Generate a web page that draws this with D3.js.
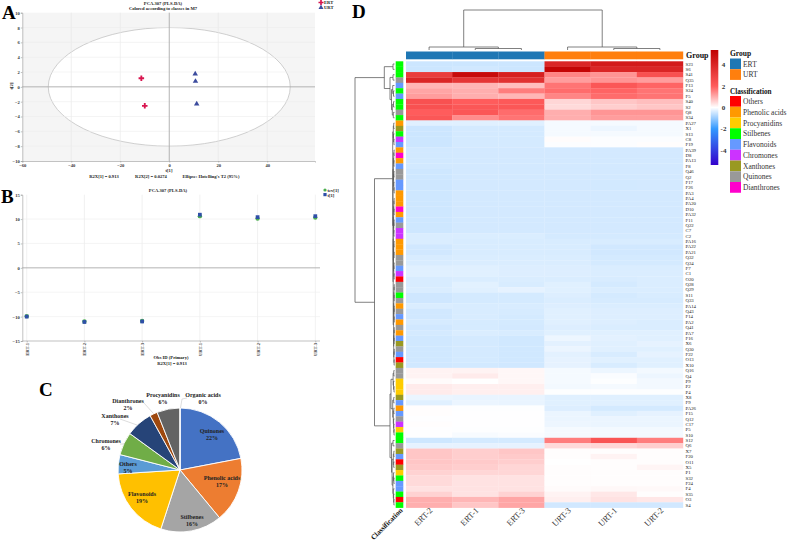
<!DOCTYPE html>
<html>

<head>
    <meta charset="utf-8" />
    <title>PCA and metabolite heatmap</title>
    <script src="https://d3js.org/d3.v7.min.js"></script>
    <style>
        html, body { margin: 0; padding: 0; background: #fff; }
        svg { display: block; }
        text { font-family: "Liberation Serif", serif; }
        .panel { font-size: 19px; font-weight: bold; fill: #000; }
        .tiny { font-size: 4.6px; font-weight: bold; fill: #222; }
        .axis text { font-size: 4.6px; font-weight: bold; fill: #333; font-family: "Liberation Serif", serif; }
        .axis path, .axis line { stroke: #999; stroke-width: 0.6; }
        .pie { font-size: 6px; font-weight: bold; fill: #222; }
    </style>
</head>

<body>
    <svg id="chart" width="787" height="544"></svg>

    <script>
        // panel A, scores
        const scoreNames = ["ERT", "URT"];
        const ertScores = [[-11.4, 1.16], [-10, -2.56]];
        const urtScores = [[10.6, 1.75], [10.7, 0.75], [11.2, -2.3]];
        const scoreXTicks = [-60, -40, -20, 0, 20, 40];
        const scoreYTicks = [10, 8, 6, 4, 2, 0, -2, -4, -6, -8, -10];

        // panel B, t[1] per observation
        const obsNames = ["ERT-1", "ERT-2", "ERT-3", "URT-1", "URT-2", "URT-3"];
        const tcvValues = [-9.9, -11, -10.9, 10.6, 10.1, 10.3];
        const tValues = [-10, -11.1, -11, 10.9, 10.4, 10.6];
        const obsYTicks = [15, 10, 5, 0, -5, -10, -15];

        // panel C, composition
        const pieNames = ["Quinones", "Phenolic acids", "Stilbenes", "Flavonoids", "Others", "Chromones", "Xanthones", "Dianthrones", "Procyanidins", "Organic acids"];
        const pieValues = [22, 17, 16, 19, 5, 6, 7, 2, 6, 0];
        const pieColors = ["#4472c4", "#ed7d31", "#a5a5a5", "#ffc000", "#5b9bd5", "#70ad47", "#264478", "#9e480e", "#636363", "#997300"];

        // panel D, heatmap
        const heatCols = ["ERT-2", "ERT-1", "ERT-3", "URT-3", "URT-1", "URT-2"];
        const rowLabels = ["S23", "S6", "S41", "Q35", "F13", "S24", "F5", "S40", "S2", "Q8", "S34", "PA27", "X1", "S13", "C8", "F19",
            "PA39", "D8", "PA13", "F8", "Q46", "Q2", "F17", "F26", "PA3", "PA4", "PA20", "D10", "PA32", "F11", "Q22", "C7",
            "C2", "PA16", "PA22", "PA21", "Q32", "Q34", "F7", "C1", "O20", "Q28", "Q29", "S11", "Q33", "PA14", "Q43", "F14",
            "PA2", "Q41", "PA7", "F16", "X6", "Q30", "F22", "O13", "X10", "Q16", "Q4", "P9", "P2", "P4", "X8", "F9",
            "PA26", "F15", "Q12", "C17", "P5", "S10", "S12", "Q6", "X7", "F20", "O11", "X5", "P1", "S32", "F24", "F4", "S35", "O3", "S4"];
        const heatValues = [
            [-.5, -.5, -.5, 4.0, 4.4, 4.4],
            [-.5, -.45, -.5, 5.2, 4.0, 4.0],
            [3.2, 5.0, 4.2, 1.5, 1.3, 2.4],
            [4.0, 3.4, 3.6, 1.2, 1.3, 1.2],
            [.9, .9, .8, 1.7, 2.2, 1.9],
            [1.1, 1.0, 1.6, 1.8, 1.9, 1.7],
            [1.2, 1.0, .9, 1.5, 1.8, 1.7],
            [2.4, 2.0, 2.1, .5, .7, .8],
            [2.4, 2.2, 2.2, .45, .6, .7],
            [2.0, 2.2, 1.8, 1.0, 1.3, 1.3],
            [2.2, 1.4, 1.7, 1.0, 1.2, 1.2],
            [-.3, -.3, -.3, -.1, -.1, -.1],
            [-.5, -.42, -.42, -.1, -.18, -.1],
            [-.5, -.42, -.42, -.1, -.1, -.1],
            [-.5, -.42, -.42, .04, -.03, -.03],
            [-.5, -.42, -.42, -.03, -.03, .03],
            [-.44, -.43, -.43, -.43, -.43, -.43],
            [-.44, -.43, -.43, -.43, -.43, -.43],
            [-.44, -.43, -.43, -.43, -.43, -.43],
            [-.44, -.43, -.43, -.43, -.43, -.43],
            [-.48, -.43, -.43, -.43, -.43, -.43],
            [-.48, -.43, -.43, -.43, -.43, -.43],
            [-.48, -.43, -.43, -.43, -.44, -.43],
            [-.48, -.43, -.43, -.43, -.44, -.43],
            [-.48, -.43, -.43, -.43, -.43, -.43],
            [-.48, -.43, -.43, -.43, -.43, -.43],
            [-.48, -.43, -.43, -.43, -.43, -.43],
            [-.48, -.43, -.43, -.43, -.43, -.43],
            [-.48, -.43, -.43, -.43, -.43, -.43],
            [-.48, -.43, -.43, -.43, -.43, -.43],
            [-.48, -.43, -.43, -.43, -.43, -.43],
            [-.48, -.43, -.43, -.43, -.43, -.43],
            [-.36, -.36, -.36, -.42, -.42, -.42],
            [-.36, -.38, -.38, -.38, -.38, -.38],
            [-.45, -.38, -.38, -.38, -.45, -.45],
            [-.45, -.38, -.38, -.38, -.45, -.45],
            [-.38, -.36, -.36, -.36, -.42, -.42],
            [-.38, -.36, -.36, -.36, -.42, -.42],
            [-.3, -.3, -.33, -.33, -.36, -.36],
            [-.3, -.3, -.33, -.33, -.36, -.36],
            [-.38, -.36, -.36, -.36, -.38, -.36],
            [-.38, -.28, -.38, -.3, -.42, -.36],
            [-.36, -.3, -.25, -.3, -.36, -.36],
            [-.47, -.42, -.42, -.33, -.42, -.38],
            [-.47, -.42, -.42, -.36, -.4, -.4],
            [-.36, -.38, -.38, -.33, -.36, -.36],
            [-.45, -.38, -.4, -.3, -.33, -.33],
            [-.45, -.38, -.42, -.3, -.33, -.33],
            [-.4, -.4, -.42, -.3, -.33, -.36],
            [-.45, -.4, -.43, -.33, -.36, -.36],
            [-.42, -.36, -.38, -.3, -.3, -.3],
            [-.46, -.42, -.46, -.18, -.27, -.3],
            [-.46, -.42, -.46, -.27, -.3, -.25],
            [-.46, -.42, -.46, -.2, -.3, -.3],
            [-.46, -.42, -.46, -.27, -.38, -.25],
            [-.46, -.42, -.46, -.25, -.3, -.3],
            [-.46, -.44, -.46, -.25, -.38, -.3],
            [.15, .15, .1, -.1, -.18, -.12],
            [.15, .25, .1, -.1, -.05, -.18],
            [.05, -.0, .1, -.1, -.02, -.12],
            [.25, .2, .2, -.12, -.1, -.12],
            [.25, .2, .2, -.02, -.02, -.02],
            [-.2, -.22, -.22, -.3, -.3, -.3],
            [-.3, -.2, -.22, -.3, -.3, -.3],
            [.02, -.02, -.02, -.33, -.42, -.42],
            [.02, -.01, -.01, -.2, -.3, -.25],
            [-.01, -.01, -.01, -.2, -.2, -.2],
            [.03, -.01, -.01, -.18, -.2, -.2],
            [-.01, -.02, -.02, -.1, -.12, -.12],
            [-.01, -.08, -.05, -.1, -.12, -.12],
            [-.48, -.42, -.42, 1.6, 2.3, 1.6],
            [-.25, -.25, -.25, .45, .5, .6],
            [.7, .6, .7, .03, .03, .03],
            [.7, .6, .65, .03, .15, .03],
            [.7, .65, .6, 0, .03, .03],
            [.65, .6, .5, .03, .03, .12],
            [.55, .5, .5, .02, .03, .02],
            [.45, .35, .35, .03, .03, .03],
            [.45, .35, .35, .03, .03, .03],
            [.35, .35, .35, .05, .08, .07],
            [.55, .35, .55, .15, .3, .03],
            [1.0, .9, 1.1, .2, .35, .3],
            [1.0, .7, 1.1, -.45, -.45, -.45]
        ];
        const colorTicks = [4, 2, 0, -2, -4];

        const groupNames = ["ERT", "URT"];
        const groupColors = ["#1f77b4", "#ff7f0e"];
        const classNames = ["Others", "Phenolic acids", "Procyanidins", "Stilbenes", "Flavonoids", "Chromones", "Xanthones", "Quinones", "Dianthrones"];
        const classColors = ["#ff0000", "#ff9900", "#ffcc00", "#00ff00", "#6699ff", "#cc33ff", "#999922", "#999999", "#ff00cc"];
        const classPrefix = { O: "Others", PA: "Phenolic acids", P: "Procyanidins", S: "Stilbenes", F: "Flavonoids", C: "Chromones", X: "Xanthones", Q: "Quinones", D: "Dianthrones" };

        // dendrograms are written as [height, left, right], a leaf is its label
        const colTree = [40, [3, "ERT-2", [1.5, "ERT-1", "ERT-3"]], [3, "URT-3", [1.5, "URT-1", "URT-2"]]];
        const treeTop = [10.2, [1.5, "S23", "S6"],
            [4.5, [1.5, "S41", "Q35"],
                [3, [1.8, "F13", [1, "S24", "F5"]], [2.2, [1, "S40", "S2"], [1.2, "Q8", "S34"]]]]];
        const treeUpperMid = [1.2, [.8, "PA27", "X1"], [1, "S13", [.6, "C8", "F19"]]];
        const treeMidA = [1.1, [.8, [.5, "PA39", "D8"], [.6, "PA13", "F8"]], [.9, [.6, "Q46", "Q2"], [.7, "F17", [.4, "F26", "PA3"]]]];
        const treeMidB = [1.2,
            [.9, [.7, [.4, "PA4", "PA20"], [.5, "D10", "PA32"]], [.8, [.5, "F11", "Q22"], [.6, "C7", "C2"]]],
            [1, [.8, [.5, "PA16", "PA22"], [.4, "PA21", "Q32"]], [.7, [.5, "Q34", "F7"], [.4, "C1", "O20"]]]];
        const treeMidC = [.9,
            [.7, [.5, [.3, "Q28", "Q29"], [.4, "S11", "Q33"]], [.6, [.4, "PA14", "Q43"], [.3, "F14", "PA2"]]],
            [.8, [.5, [.3, "Q41", "PA7"], [.4, "F16", "X6"]], [.6, [.3, "Q30", "F22"], [.4, "O13", "X10"]]]];
        const treeLow = [4.5,
            [3.5, [1.4, [.7, "Q16", "Q4"], [1, "P9", [.5, "P2", "P4"]]],
                [1.8, [.8, "X8", "F9"], [1.2, [.7, "PA26", "F15"], [.9, "Q12", [.7, "C17", [.5, "P5", "S10"]]]]]],
            [3, [1.5, "S12", "Q6"],
                [2.4, [1.2, [.7, "X7", "F20"], [.8, "O11", "X5"]],
                    [1.6, [1, "P1", [.6, "S32", "F24"]], [1.2, "F4", [.9, "S35", [.6, "O3", "S4"]]]]]]];
        const rowTree = [39.5, treeTop, [20, [1.8, treeUpperMid, [1.5, treeMidA, [1.3, treeMidB, treeMidC]]], treeLow]];

        const svg = d3.select("#chart");

        function panelLetter(label, x, y) {
            svg.append("text").attr("class", "panel").attr("x", x).attr("y", y).text(label);
        }

        function tinyText(label, x, y, anchor) {
            return svg.append("text").attr("class", "tiny").attr("x", x).attr("y", y)
                .attr("text-anchor", anchor || "middle").text(label);
        }

        // panel A
        function drawScores() {
            const x = d3.scaleLinear().domain([-60, 59.5]).range([22.3, 315]);
            const y = d3.scaleLinear().domain([-10, 10]).range([161, 12.7]);
            const g = svg.append("g");

            g.append("rect").attr("x", x.range()[0]).attr("y", y.range()[1])
                .attr("width", x.range()[1] - x.range()[0]).attr("height", y.range()[0] - y.range()[1]).attr("fill", "#f5f5f5");
            g.append("ellipse").attr("cx", x(0)).attr("cy", y(0))
                .attr("rx", x(49.4) - x(0)).attr("ry", y(0) - y(8))
                .attr("fill", "#fff").attr("stroke", "#bbb").attr("stroke-width", 0.7);

            // grid over the ellipse
            g.selectAll(".gx").data(scoreXTicks.filter(d => d !== 0 && d !== -60)).enter().append("line")
                .attr("x1", d => x(d)).attr("x2", d => x(d)).attr("y1", y(-10)).attr("y2", y(10)).attr("stroke", "#e6e6e6").attr("stroke-width", 0.6);
            g.selectAll(".gy").data(scoreYTicks.filter(d => d !== 0 && Math.abs(d) < 10)).enter().append("line")
                .attr("x1", x.range()[0]).attr("x2", x.range()[1]).attr("y1", d => y(d)).attr("y2", d => y(d)).attr("stroke", "#ececec").attr("stroke-width", 0.6);
            g.append("line").attr("x1", x(0)).attr("x2", x(0)).attr("y1", y(-10)).attr("y2", y(10)).attr("stroke", "#aaa").attr("stroke-width", 0.9);
            g.append("line").attr("x1", x.range()[0]).attr("x2", x.range()[1]).attr("y1", y(0)).attr("y2", y(0)).attr("stroke", "#aaa").attr("stroke-width", 0.9);

            g.append("g").attr("class", "axis").attr("transform", `translate(0,${y(-10)})`)
                .call(d3.axisBottom(x).tickValues(scoreXTicks).tickSize(1.5).tickPadding(1));
            g.append("g").attr("class", "axis").attr("transform", `translate(${x(-60)},0)`)
                .call(d3.axisLeft(y).tickValues(scoreYTicks).tickSize(1.5).tickPadding(1));

            g.selectAll(".ert").data(ertScores).enter().append("path")
                .attr("d", d3.symbol().type(d3.symbolCross).size(17))
                .attr("transform", d => `translate(${x(d[0])},${y(d[1])})`).attr("fill", "#d8154f");
            g.selectAll(".urt").data(urtScores).enter().append("path")
                .attr("d", d3.symbol().type(d3.symbolTriangle).size(13))
                .attr("transform", d => `translate(${x(d[0])},${y(d[1])})`).attr("fill", "#3c4c9e");

            tinyText("PCA.307 (PLS-DA)", 163, 4.5);
            tinyText("Colored according to classes in M7", 163, 9.5);
            tinyText("t[1]", 169, 172);
            tinyText("R2X[1] = 0.913", 104, 177.5);
            tinyText("R2X[2] = 0.0274", 151, 177.5);
            tinyText("Ellipse: Hotelling's T2 (95%)", 211, 177.5);
            tinyText("t[2]", 0, 0).attr("transform", "translate(13,86) rotate(-90)");

            g.append("path").attr("d", d3.symbol().type(d3.symbolCross).size(14)).attr("transform", "translate(321,2.5)").attr("fill", "#d8154f");
            g.append("path").attr("d", d3.symbol().type(d3.symbolTriangle).size(11)).attr("transform", "translate(321,7.5)").attr("fill", "#3c4c9e");
            scoreNames.forEach((n, i) => tinyText(n, 324, 4 + i * 5, "start"));
        }

        // panel B
        function drawObs() {
            const x = d3.scalePoint().domain(obsNames).range([26.7, 315.3]);
            const y = d3.scaleLinear().domain([-15, 15]).range([341, 194.7]);
            const g = svg.append("g");

            g.selectAll(".gx").data(obsNames).enter().append("line")
                .attr("x1", d => x(d)).attr("x2", d => x(d)).attr("y1", y(-15)).attr("y2", y(15)).attr("stroke", "#e8e8e8").attr("stroke-width", 0.6);
            g.selectAll(".gy").data(obsYTicks.filter(d => d !== 0 && Math.abs(d) < 15)).enter().append("line")
                .attr("x1", 22.3).attr("x2", 320).attr("y1", d => y(d)).attr("y2", d => y(d)).attr("stroke", "#eee").attr("stroke-width", 0.6);
            g.append("line").attr("x1", 22.3).attr("x2", 320).attr("y1", y(0)).attr("y2", y(0)).attr("stroke", "#aaa").attr("stroke-width", 0.9);

            const xAxis = g.append("g").attr("class", "axis").attr("transform", `translate(0,${y(-15)})`)
                .call(d3.axisBottom(x).tickSize(1.5).tickPadding(1));
            xAxis.select(".domain").attr("d", "M22.3,0H320");
            xAxis.selectAll("text").attr("transform", "rotate(-90)").attr("text-anchor", "end").attr("x", -2).attr("y", 1.5).attr("dy", 0);
            const yAxis = g.append("g").attr("class", "axis").attr("transform", "translate(22.3,0)")
                .call(d3.axisLeft(y).tickValues(obsYTicks).tickSize(1.5).tickPadding(1));

            g.selectAll(".tcv").data(tcvValues).enter().append("circle")
                .attr("cx", (d, i) => x(obsNames[i])).attr("cy", d => y(d)).attr("r", 2.2).attr("fill", "#4caf50");
            g.selectAll(".tt").data(tValues).enter().append("path")
                .attr("d", d3.symbol().type(d3.symbolSquare).size(14))
                .attr("transform", (d, i) => `translate(${x(obsNames[i])},${y(d)})`).attr("fill", "#2f4fa8");

            tinyText("PCA.307 (PLS-DA)", 168, 191.5);
            tinyText("Obs ID (Primary)", 171, 359);
            tinyText("R2X[1] = 0.913", 172, 364.5);
            g.append("circle").attr("cx", 325).attr("cy", 190).attr("r", 1.6).attr("fill", "#4caf50");
            g.append("rect").attr("x", 323.4).attr("y", 193).attr("width", 3.2).attr("height", 3.2).attr("fill", "#2f4fa8");
            tinyText("tcv[1]", 327.5, 191.5, "start");
            tinyText("t[1]", 327.5, 196.5, "start");
        }

        // panel C
        function drawPie() {
            const g = svg.append("g").attr("transform", "translate(180,470)");
            const pie = d3.pie().sort(null).value(d => d)(pieValues);
            const arc = d3.arc().innerRadius(0).outerRadius(62);
            g.selectAll("path").data(pie).enter().append("path")
                .attr("d", arc).attr("fill", (d, i) => pieColors[i])
                .attr("stroke", "#fff").attr("stroke-width", 0.9);

            // label offsets from the pie centre
            const labelAt = [[32, -37], [42, 10], [12, 49], [-38, 26], [-52, -4], [-74, -27], [-65, -52], [-52, -67], [-17, -73], [23, -73]];
            pieNames.forEach((n, i) => {
                const t = g.append("text").attr("class", "pie").attr("text-anchor", "middle");
                t.append("tspan").attr("x", labelAt[i][0]).attr("y", labelAt[i][1]).text(n);
                t.append("tspan").attr("x", labelAt[i][0]).attr("y", labelAt[i][1] + 7).text(pieValues[i] + "%");
            });

            // leader lines for the outer labels
            const leaders = [
                [[-60, -26], [-55, -26]],
                [[-60, -51], [-43, -45]],
                [[-36, -67], [-27, -57]],
                [[7, -72], [2, -71], [0.5, -62]]
            ];
            g.selectAll(".leader").data(leaders).enter().append("path")
                .attr("d", d3.line())
                .attr("fill", "none").attr("stroke", "#bbb").attr("stroke-width", 0.5);
        }

        // tree drawn as nested brackets, pos is the leaf axis and toH the height axis
        function drawTree(tree, pos, toH, horizontal) {
            const root = d3.hierarchy(tree, d => Array.isArray(d) ? d.slice(1) : null);
            root.eachAfter(n => {
                n.p = n.children ? d3.mean(n.children, c => c.p) : pos(n.data);
                n.h = n.children ? n.data[0] : 0;
            });
            const pt = (p, h) => horizontal ? [toH(h), p] : [p, toH(h)];
            const line = d3.line();
            svg.append("g").selectAll("path").data(root.descendants().filter(n => n.children)).enter().append("path")
                .attr("d", n => line([
                    pt(n.children[0].p, n.children[0].h), pt(n.children[0].p, n.h),
                    pt(n.children[1].p, n.h), pt(n.children[1].p, n.children[1].h)]))
                .attr("fill", "none").attr("stroke", "#555").attr("stroke-width", 0.75);
        }

        // panel D
        function drawHeatmap() {
            const x = d3.scaleBand().domain(heatCols).range([406, 683]);
            const y = d3.scaleBand().domain(rowLabels).range([61.3, 507.7]);
            const color = d3.scaleLinear().domain([-5.4, -2, 0, 2, 5.4])
                .range(["#3300cc", "#3399ff", "#ffffff", "#ff5c5c", "#c00000"]);

            const cells = svg.append("g");
            rowLabels.forEach((r, i) => {
                cells.selectAll(".c" + i).data(heatValues[i]).enter().append("rect")
                    .attr("x", (d, j) => x(heatCols[j])).attr("y", y(r))
                    .attr("width", x.bandwidth() + 0.2).attr("height", y.bandwidth() + 0.2)
                    .attr("fill", d => color(d));
            });

            // group bar
            svg.append("g").selectAll("rect").data(heatCols).enter().append("rect")
                .attr("x", d => x(d)).attr("y", 51.5).attr("width", x.bandwidth() + 0.2).attr("height", 7.8)
                .attr("fill", d => groupColors[groupNames.indexOf(d.slice(0, 3))]);

            // classification strip
            const rowClass = d => classPrefix[d.replace(/\d+/, "")];
            svg.append("g").selectAll("rect").data(rowLabels).enter().append("rect")
                .attr("x", 395.7).attr("y", d => y(d)).attr("width", 7.6).attr("height", y.bandwidth() + 0.2)
                .attr("fill", d => classColors[classNames.indexOf(rowClass(d))]);

            // labels
            svg.append("g").selectAll("text").data(rowLabels).enter().append("text")
                .attr("x", 685.5).attr("y", d => y(d) + y.bandwidth() / 2 + 1.6)
                .attr("font-size", 4.8).attr("fill", "#222").text(d => d);
            svg.append("g").selectAll("text").data(heatCols).enter().append("text")
                .attr("transform", d => `translate(${x(d) + x.bandwidth() / 2 + 4},511) rotate(-45)`)
                .attr("text-anchor", "end").attr("font-size", 8.5).attr("fill", "#333").text(d => d);
            svg.append("text").attr("transform", "translate(403,511) rotate(-45)").attr("text-anchor", "end")
                .attr("font-size", 7.2).attr("font-weight", "bold").attr("fill", "#111").text("Classification");
            svg.append("text").attr("x", 686).attr("y", 58).attr("font-size", 8).attr("font-weight", "bold").attr("fill", "#111").text("Group");

            // dendrograms
            drawTree(colTree, d => x(d) + x.bandwidth() / 2, d3.scaleLinear().domain([0, 40]).range([50, 10]), false);
            drawTree(rowTree, d => y(d) + y.bandwidth() / 2, d3.scaleLinear().domain([0, 39.5]).range([394.5, 355]), true);

            // colour bar
            const barY = d3.scaleLinear().domain([5.4, -5.4]).range([50, 165]);
            const defs = svg.append("defs").append("linearGradient").attr("id", "bar")
                .attr("x1", 0).attr("x2", 0).attr("y1", 0).attr("y2", 1);
            color.domain().slice().reverse().forEach(v => {
                defs.append("stop").attr("offset", (barY(v) - 50) / 115).attr("stop-color", color(v));
            });
            svg.append("rect").attr("x", 710.7).attr("y", 50).attr("width", 7.6).attr("height", 115).attr("fill", "url(#bar)");
            svg.append("g").selectAll("text").data(colorTicks).enter().append("text")
                .attr("x", 723.5).attr("y", d => barY(d) + 2.5).attr("text-anchor", "middle")
                .attr("font-size", 7).attr("font-weight", "bold").attr("fill", "#333").text(d => d);

            // legends
            const legend = svg.append("g");
            legend.append("text").attr("x", 730).attr("y", 56).attr("font-size", 7.5).attr("font-weight", "bold").attr("fill", "#111").text("Group");
            legend.selectAll(".lg").data(groupNames).enter().append("rect")
                .attr("x", 730).attr("y", (d, i) => 58.5 + i * 10.7).attr("width", 11).attr("height", 10.7)
                .attr("fill", (d, i) => groupColors[i]);
            legend.selectAll(".lgt").data(groupNames).enter().append("text")
                .attr("x", 743).attr("y", (d, i) => 66.5 + i * 10.7).attr("font-size", 7.5).attr("fill", "#333").text(d => d);
            legend.append("text").attr("x", 730).attr("y", 93.5).attr("font-size", 7.2).attr("font-weight", "bold").attr("fill", "#111").text("Classification");
            legend.selectAll(".lc").data(classNames).enter().append("rect")
                .attr("x", 730).attr("y", (d, i) => 96 + i * 10.75).attr("width", 11).attr("height", 10.75)
                .attr("fill", (d, i) => classColors[i]);
            legend.selectAll(".lct").data(classNames).enter().append("text")
                .attr("x", 743).attr("y", (d, i) => 104 + i * 10.75).attr("font-size", 7.5).attr("fill", "#333").text(d => d);
        }

        drawScores();
        drawObs();
        drawPie();
        drawHeatmap();
        panelLetter("A", 2, 18.5);
        panelLetter("B", 1, 203);
        panelLetter("C", 39, 396);
        panelLetter("D", 352, 18);
    </script>
</body>

</html>
